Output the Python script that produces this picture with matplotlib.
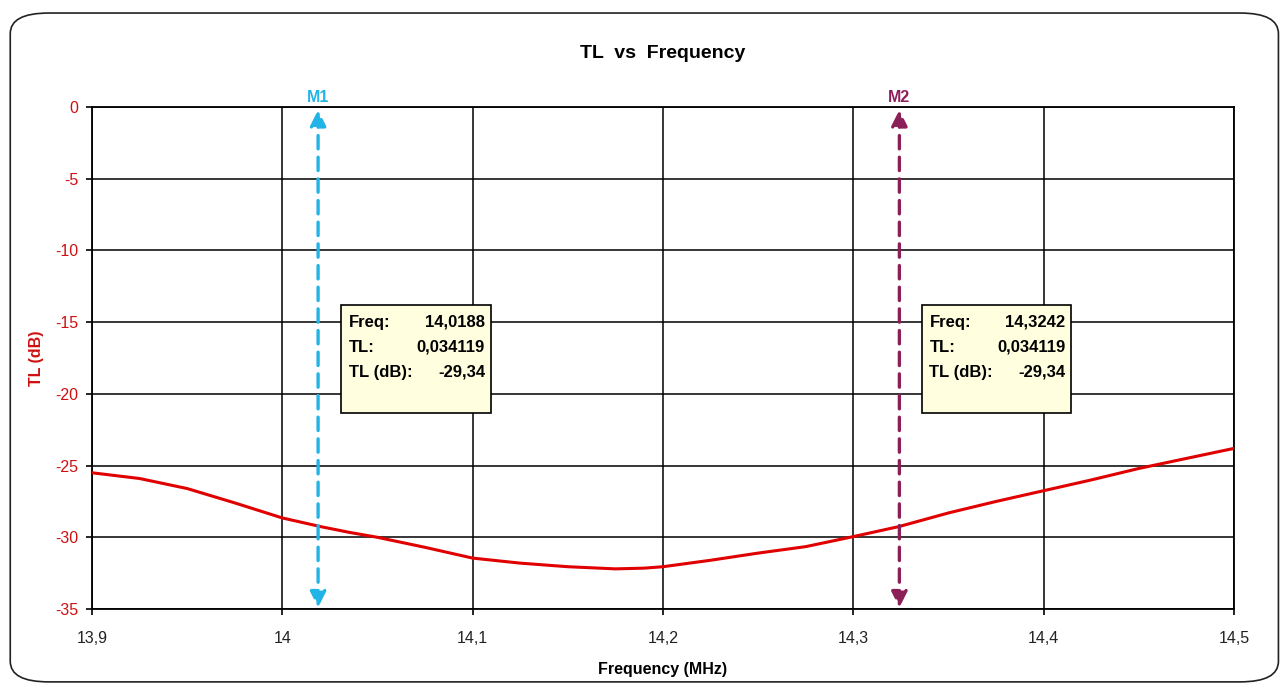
import matplotlib.pyplot as plt
from matplotlib.patches import Rectangle, FancyBboxPatch

plt.rcParams['font.family'] = ['Liberation Sans', 'DejaVu Sans']
plt.rcParams['axes.unicode_minus'] = False

# TL curve
freq = [13.9, 13.925, 13.95, 13.975, 14.0, 14.02, 14.035, 14.05, 14.075, 14.1,
        14.125, 14.15, 14.175, 14.19, 14.2, 14.225, 14.25, 14.275, 14.3,
        14.324, 14.35, 14.375, 14.4, 14.425, 14.45, 14.475, 14.5]
tl_db = [-25.5, -25.9, -26.6, -27.6, -28.65, -29.25, -29.65, -30.0, -30.7, -31.45,
         -31.8, -32.05, -32.2, -32.15, -32.05, -31.6, -31.1, -30.65, -29.95,
         -29.25, -28.3, -27.5, -26.75, -26.0, -25.2, -24.5, -23.8]

marker_names = ['M1', 'M2']
marker_freq = [14.0188, 14.3242]
marker_tl = ['0,034119', '0,034119']
marker_tl_db = ['-29,34', '-29,34']
marker_colors = ['#22B4E6', '#8C1F58']

xticks = [13.9, 14.0, 14.1, 14.2, 14.3, 14.4, 14.5]
xtick_labels = ['13,9', '14', '14,1', '14,2', '14,3', '14,4', '14,5']
yticks = [0, -5, -10, -15, -20, -25, -30, -35]

fig = plt.figure(figsize=(12.81, 6.86), dpi=100)
fig.patches.append(FancyBboxPatch((0.008, 0.006), 0.99, 0.975, transform=fig.transFigure,
                                  boxstyle='round,pad=0,rounding_size=0.03',
                                  fc='none', ec='#222222', lw=1.2))
ax = fig.add_axes([0.0718, 0.1122, 0.8915, 0.7318])

ax.plot(freq, tl_db, color='#E00000', lw=2.2, zorder=3)

# markers and their info boxes
box_left = [14.031, 14.336]
for name, f, tl, db, c, bl in zip(marker_names, marker_freq, marker_tl, marker_tl_db,
                                  marker_colors, box_left):
    ax.annotate('', xy=(f, -0.2), xytext=(f, -34.9),
                arrowprops=dict(arrowstyle='<|-|>', color=c, lw=2.4,
                                linestyle=(0, (4, 2.5)), mutation_scale=24,
                                shrinkA=0, shrinkB=0), zorder=4)
    ax.text(f, 0.15, name, color=c, fontsize=11.5, fontweight='bold',
            ha='center', va='bottom')
    ax.add_patch(Rectangle((bl, -21.3), 0.0785, 7.5, fc='#FFFFE0', ec='black',
                           lw=1.2, zorder=5))
    rows = [('Freq:', f'{f:.4f}'.replace('.', ',')), ('TL:', tl), ('TL (dB):', db)]
    for i, (k, v) in enumerate(rows):
        y = -15.0 - i * 1.75
        ax.text(bl + 0.004, y, k, fontsize=12, fontweight='bold', va='center',
                ha='left', zorder=6)
        ax.text(bl + 0.0755, y, v, fontsize=12, fontweight='bold', va='center',
                ha='right', zorder=6)

ax.set_xlim(13.9, 14.5)
ax.set_ylim(-35, 0)
ax.set_xticks(xticks)
ax.set_xticklabels(xtick_labels)
ax.set_yticks(yticks)
ax.grid(True, color='black', lw=1.1)
ax.set_axisbelow(True)
for s in ax.spines.values():
    s.set_linewidth(1.3)
ax.tick_params(axis='x', length=4, width=1.2, pad=12, labelsize=11.5, labelcolor='#222222')
ax.tick_params(axis='y', length=4, width=1.2, pad=6, labelsize=11.5, labelcolor='#D01010')

ax.set_title('TL  vs  Frequency', fontsize=14, fontweight='bold', pad=35)
ax.set_xlabel('Frequency (MHz)', fontsize=11.5, fontweight='bold', labelpad=11)
ax.set_ylabel('TL (dB)', fontsize=11.5, fontweight='bold', color='#D01010', labelpad=8)

fig.savefig('out.png', dpi=100)
